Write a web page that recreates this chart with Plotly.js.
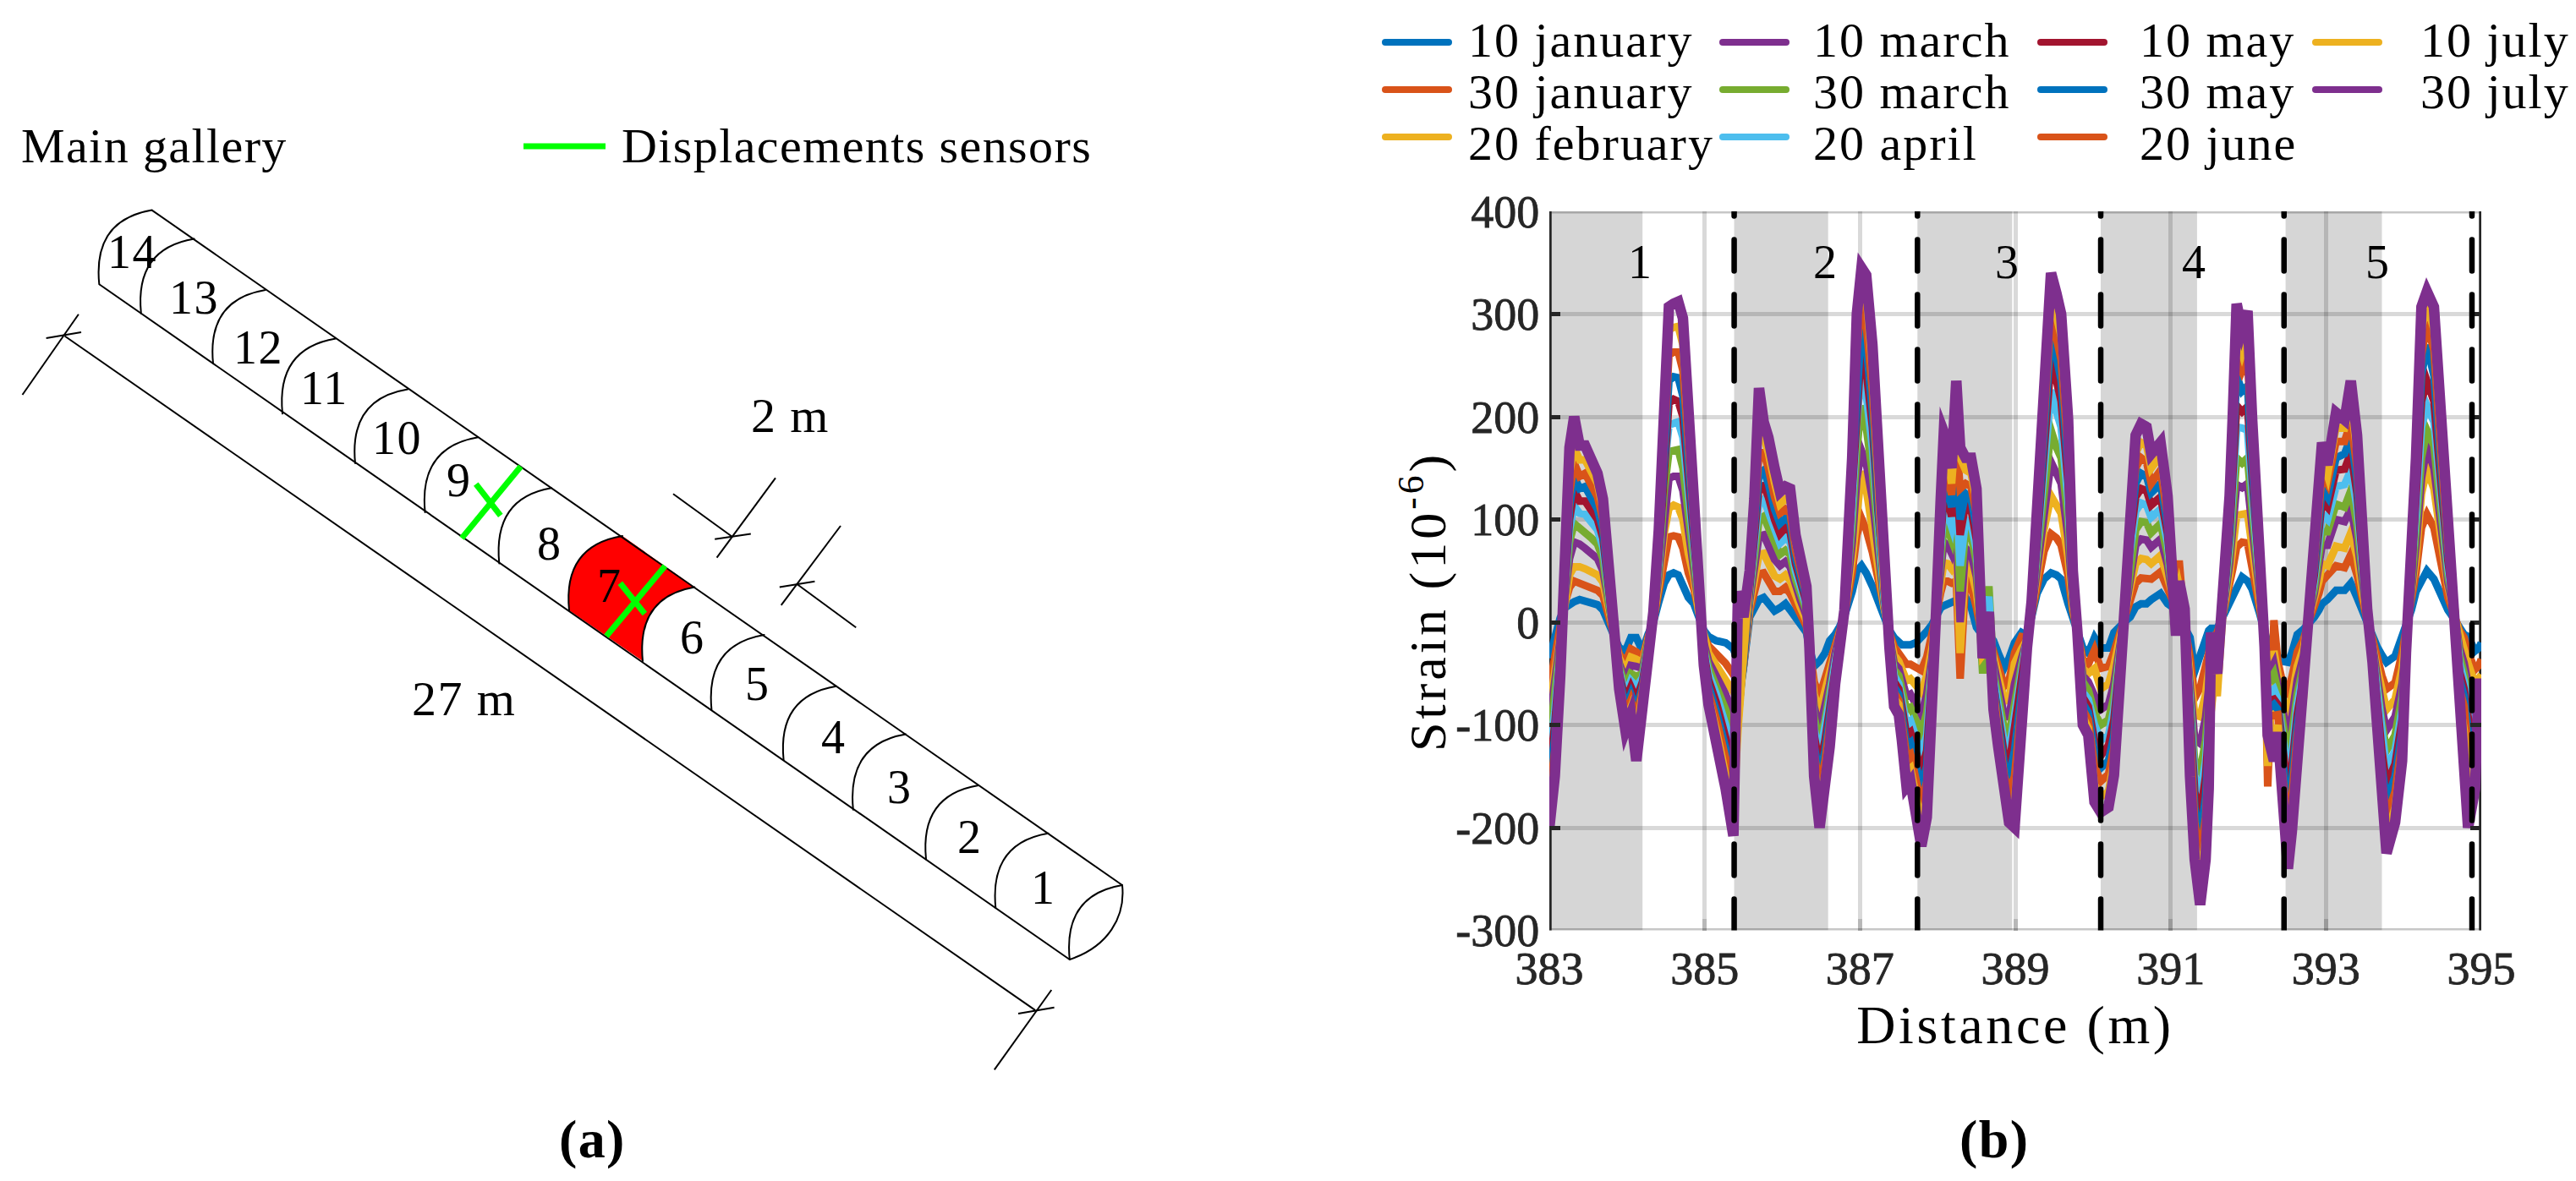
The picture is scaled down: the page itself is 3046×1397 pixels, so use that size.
<!DOCTYPE html>
<html><head><meta charset="utf-8">
<script src="https://cdn.plot.ly/plotly-3.0.1.min.js"></script>
<style>
body{margin:0;background:#fff}
.annotation-text{letter-spacing:1.4px}
.xtitle{letter-spacing:3.6px}
.xtick text,.ytick text{stroke:#262626;stroke-width:0.8px}
.shapelayer path{stroke-linecap:round}
.js-line{stroke-linejoin:miter!important;stroke-miterlimit:5!important}
</style></head><body><div id="chart" style="width:3046px;height:1397px"></div>
<script>
const distance=[383.00,383.07,383.14,383.20,383.26,383.32,383.39,383.46,383.54,383.62,383.69,383.76,383.83,383.90,383.98,384.05,384.12,384.20,384.27,384.34,384.41,384.48,384.54,384.60,384.66,384.72,384.79,384.86,384.92,384.99,385.05,385.15,385.27,385.37,385.43,385.50,385.58,385.64,385.70,385.76,385.82,385.90,385.97,386.04,386.10,386.17,386.23,386.31,386.35,386.41,386.48,386.55,386.61,386.68,386.74,386.80,386.90,386.96,387.02,387.08,387.16,387.23,387.31,387.38,387.44,387.50,387.54,387.60,387.65,387.72,387.79,387.86,387.93,387.98,388.04,388.08,388.13,388.18,388.24,388.29,388.36,388.43,388.50,388.54,388.58,388.66,388.72,388.78,388.86,388.92,388.99,389.08,389.15,389.21,389.28,389.37,389.46,389.53,389.59,389.68,389.74,389.80,389.87,389.94,390.02,390.10,390.20,390.27,390.33,390.40,390.48,390.55,390.62,390.69,390.75,390.87,390.96,391.02,391.07,391.11,391.18,391.25,391.31,391.38,391.45,391.49,391.52,391.60,391.67,391.76,391.80,391.85,391.92,391.99,392.05,392.14,392.21,392.25,392.33,392.38,392.43,392.51,392.56,392.63,392.71,392.78,392.85,392.91,392.95,393.02,393.13,393.24,393.32,393.40,393.47,393.53,393.60,393.66,393.72,393.78,393.89,393.98,394.03,394.10,394.16,394.23,394.30,394.39,394.48,394.57,394.66,394.72,394.78,394.83,394.92,394.97,395.00];
const jan10=[-35,-12,4,14,18,20,22,21,18,17,12,0,-15,-25,-28,-15,-15,-28,-12,0,20,38,46,48,46,35,24,18,5,-8,-14,-18,-20,-26,-38,-44,5,15,22,24,18,11,14,18,12,5,0,-10,-25,-43,-38,-30,-18,-12,-4,6,30,50,55,48,35,20,5,-8,-15,-20,-22,-22,-22,-20,-15,-9,-2,7,14,16,18,20,22,23,24,15,-5,-10,-13,-12,-18,-30,-44,-35,-20,-10,-13,5,28,42,48,46,42,18,5,-10,-25,-30,-15,-25,-25,-10,-4,0,5,15,18,18,22,28,18,14,12,10,-5,-15,-48,-30,-15,-8,-6,-6,5,20,28,35,44,40,32,10,-10,-20,-32,-33,-38,-39,-30,-12,-7,-2,5,12,18,22,31,31,38,24,10,0,-12,-24,-32,-39,-33,-15,-5,12,30,42,50,42,25,12,2,-5,-12,-14,-28,-25,-20];
const jan30=[-64,-31,-4,18,34,40,38,37,33,31,26,7,-14,-31,-39,-26,-29,-35,-15,1,30,65,83,84,83,72,48,33,8,-13,-23,-31,-40,-51,-48,-43,11,30,47,48,41,30,30,34,28,16,8,-4,-25,-58,-72,-55,-38,-19,-6,7,48,85,101,90,68,40,10,-10,-24,-30,-35,-41,-41,-44,-47,-34,-14,7,29,40,40,38,40,-55,43,35,14,-4,-16,-14,-27,-43,-62,-57,-30,-14,-15,7,38,69,86,82,75,45,11,-10,-36,-41,-27,-45,-43,-29,-15,1,21,38,43,42,42,49,33,19,13,60,-3,-34,-74,-64,-45,-30,-18,-10,6,35,52,73,78,77,55,21,-12,-160,2,-38,-55,-67,-54,-29,-17,1,14,28,40,45,55,53,66,46,20,2,-16,-36,-52,-65,-59,-30,-8,20,48,92,105,92,57,24,5,-8,-15,-30,-46,-42,-36];
const feb20=[-84,-46,-10,20,46,54,54,52,48,46,39,12,-14,-35,-47,-34,-36,-40,-17,2,37,87,111,114,112,100,67,44,11,-16,-30,-42,-55,-68,-55,-43,16,41,66,67,58,45,42,46,41,25,15,1,-25,-70,-88,-67,-48,-24,-8,8,62,112,147,130,94,55,14,-12,-32,-38,-45,-57,-55,-62,-68,-52,-24,8,40,58,57,52,60,-30,58,51,29,0,-18,-15,-35,-53,-77,-75,-40,-26,-17,9,46,90,123,115,106,63,16,-10,-45,-50,-45,-65,-60,-42,-23,3,34,57,62,61,57,65,44,23,14,30,0,-50,-90,-92,-70,-47,-28,-72,7,46,71,104,105,106,73,29,-14,-140,-28,-50,-70,-89,-74,-43,-25,4,21,40,57,55,74,72,87,64,29,3,-19,-45,-65,-85,-75,-45,-11,24,62,125,149,130,85,35,5,-12,-25,-40,-60,-55,-51];
const mar10=[-100,-62,-16,24,62,78,76,72,66,62,50,17,-13,-40,-56,-42,-43,-45,-19,3,45,108,140,142,142,128,86,56,14,-20,-38,-52,-70,-90,-64,-43,21,53,84,85,76,61,55,59,54,34,22,6,-25,-82,-105,-82,-60,-30,-10,8,77,140,167,155,120,70,18,-14,-40,-45,-55,-72,-70,-80,-90,-70,-33,8,52,78,75,67,85,0,72,67,44,4,-21,-17,-42,-63,-92,-92,-60,-35,-17,10,54,112,156,145,135,82,21,-10,-52,-58,-70,-85,-80,-60,-31,4,47,75,81,80,73,81,56,27,15,20,2,-62,-114,-118,-93,-64,-38,-16,8,57,90,134,131,135,92,37,-15,-52,-40,-60,-83,-111,-93,-56,-33,6,28,52,75,75,100,98,110,81,37,4,-22,-55,-84,-105,-92,-60,-14,30,75,140,171,150,95,39,6,-25,-40,-60,-75,-65,-60];
const mar30=[-115,-75,-22,26,78,96,92,88,82,76,62,22,-13,-43,-63,-50,-53,-50,-20,4,52,128,166,168,168,150,104,66,17,-24,-44,-62,-85,-110,-72,-42,26,63,100,103,92,75,66,70,66,42,28,11,-25,-92,-117,-95,-68,-36,-12,9,95,170,211,190,145,85,22,-16,-46,-52,-65,-85,-83,-98,-108,-88,-42,8,63,95,90,80,110,30,90,85,58,10,-50,35,-50,-72,-105,-110,-75,-42,-18,12,62,130,187,170,160,100,26,-10,-58,-66,-88,-100,-95,-72,-38,5,58,90,98,97,87,96,66,30,16,25,3,-78,-136,-145,-115,-80,-48,-20,9,67,105,160,155,160,108,45,-16,-60,-50,-67,-95,-130,-110,-70,-41,8,33,62,88,88,115,112,128,95,45,5,-25,-64,-98,-125,-110,-72,-17,35,90,160,187,172,108,46,7,-32,-50,-72,-90,-78,-68];
const apr20=[-130,-87,-28,28,90,113,106,105,96,90,73,27,-12,-47,-71,-57,-63,-54,-22,5,60,148,192,193,195,180,122,77,19,-27,-50,-70,-100,-128,-80,-42,30,74,118,120,108,87,77,82,78,50,34,15,-25,-103,-130,-104,-76,-40,-13,9,112,195,244,222,170,98,25,-18,-52,-60,-75,-99,-96,-115,-128,-110,-52,9,74,110,105,93,125,55,100,96,70,14,-28,25,-55,-82,-118,-125,-90,-50,-20,13,70,150,226,205,190,118,30,-10,-68,-75,-100,-115,-110,-85,-46,6,70,108,116,114,102,110,77,34,17,25,4,-90,-150,-168,-135,-95,-56,-22,9,78,125,190,189,187,125,52,-18,-70,-65,-75,-108,-150,-128,-80,-48,10,40,74,105,100,132,134,148,112,52,7,-28,-72,-112,-143,-125,-85,-19,40,105,190,211,195,122,53,8,-40,-58,-80,-105,-85,-77];
const may10=[-145,-100,-32,30,100,128,118,118,108,100,82,31,-12,-50,-76,-63,-75,-58,-23,6,65,162,213,217,215,200,135,85,21,-30,-56,-78,-112,-142,-85,-42,33,82,132,133,122,100,86,92,88,57,38,19,-25,-110,-140,-115,-84,-44,-14,10,125,220,270,245,190,110,28,-19,-58,-65,-82,-110,-107,-128,-145,-125,-60,9,82,122,118,103,145,85,115,110,80,16,-25,-5,-62,-90,-130,-140,-105,-58,-21,14,76,168,255,235,215,135,34,-10,-73,-82,-115,-130,-120,-95,-52,6,80,122,130,128,114,122,86,37,18,25,4,-100,-165,-188,-150,-105,-62,-24,10,86,140,211,205,210,140,58,-19,-77,-75,-80,-118,-165,-142,-90,-54,11,46,84,118,112,148,149,165,125,58,8,-30,-80,-125,-158,-138,-95,-21,44,118,215,235,215,135,60,9,-48,-65,-92,-118,-95,-83];
const may30=[-155,-112,-37,33,112,142,130,132,120,110,90,35,-11,-53,-83,-70,-85,-62,-25,7,70,178,235,239,238,220,150,94,23,-33,-62,-86,-122,-155,-90,-41,37,90,145,148,135,110,96,101,97,63,43,23,-25,-120,-150,-125,-92,-48,-15,10,135,240,292,270,205,120,30,-20,-63,-70,-89,-120,-117,-140,-160,-140,-66,9,90,135,128,112,165,100,125,120,92,19,-28,-22,-68,-97,-140,-150,-125,-64,-22,15,82,182,281,258,235,150,37,-10,-79,-88,-125,-142,-135,-110,-59,7,90,135,145,142,126,135,94,40,18,25,5,-115,-180,-210,-170,-120,-70,-26,10,94,155,240,225,230,152,65,-20,-85,-80,-85,-130,-185,-155,-100,-60,13,52,92,130,122,160,164,180,138,65,9,-32,-88,-140,-175,-150,-105,-23,48,130,240,270,240,150,67,10,-55,-72,-105,-128,-100,-87];
const jun20=[-170,-125,-42,36,125,155,142,145,132,122,100,38,-10,-57,-90,-76,-93,-66,-26,8,76,195,260,263,263,245,165,104,25,-36,-68,-94,-132,-170,-96,-41,41,98,165,165,150,122,106,110,106,70,48,27,-25,-128,-160,-135,-100,-52,-17,11,150,265,314,290,225,130,33,-22,-68,-76,-95,-130,-128,-155,-178,-155,-74,9,98,148,140,124,180,130,135,132,105,23,-30,-24,-73,-105,-150,-165,-150,-72,-23,17,88,195,302,280,255,165,41,-10,-85,-95,-140,-155,-148,-122,-66,8,100,150,160,156,135,148,103,43,19,30,7,-125,-195,-228,-190,-135,-78,-28,11,103,165,260,245,258,168,72,-21,-92,-90,-90,-140,-200,-170,-110,-67,16,58,100,145,135,176,176,195,150,72,10,-34,-96,-152,-190,-165,-115,-25,52,140,260,290,265,165,72,11,-65,-82,-125,-140,-90,-90];
const jul10=[-185,-138,-47,38,145,170,158,158,145,135,110,43,-10,-60,-97,-83,-105,-70,-28,9,83,215,285,287,288,270,180,113,28,-39,-74,-105,-145,-185,-103,-40,45,110,197,180,165,136,115,120,118,78,54,31,-25,-138,-178,-148,-110,-56,-18,11,155,285,335,320,245,145,36,-23,-74,-80,-105,-145,-142,-172,-195,-172,-82,10,108,165,158,135,195,160,148,145,118,27,-32,-24,-78,-113,-165,-180,-175,-76,-24,18,94,215,322,298,278,180,45,-10,-92,-103,-158,-170,-165,-135,-74,9,112,165,175,172,150,162,113,46,20,35,10,-140,-215,-250,-210,-150,-88,-32,12,113,185,281,262,280,182,80,-22,-100,-125,-100,-152,-220,-188,-122,-74,18,64,112,160,143,190,189,215,165,80,12,-36,-103,-165,-208,-180,-125,-28,56,150,285,309,285,182,80,12,-78,-105,-165,-150,-75,-93];
const jul30=[-200,-150,-53,40,170,200,172,172,158,145,120,48,-10,-65,-105,-90,-135,-75,-30,10,90,233,307,310,312,296,197,123,30,-42,-80,-113,-162,-208,30,5,50,120,228,195,180,150,127,132,130,85,60,35,-25,-150,-200,-162,-121,-60,-20,12,160,300,345,338,270,160,40,-25,-82,-90,-115,-160,-155,-190,-218,-190,-90,10,120,185,175,150,235,170,160,160,130,30,-35,10,-85,-121,-176,-195,-200,-80,-25,20,100,233,340,320,300,197,50,-10,-100,-110,-175,-185,-180,-149,-80,10,123,182,193,190,164,175,123,50,-13,40,13,-150,-231,-275,-231,-162,-10,-50,13,123,200,310,285,303,197,86,-24,-110,-135,-107,-162,-240,-204,-135,-80,20,70,123,175,153,204,197,235,182,86,13,-39,-110,-176,-225,-195,-135,-30,60,160,307,322,307,197,86,13,-90,-129,-200,-162,-55,-100];

const seriesNames=['10 january','30 january','20 february','10 march','30 march','20 april','10 may','30 may','20 june','10 july','30 july'];
const seriesValues=[jan10,jan30,feb20,mar10,mar30,apr20,may10,may30,jun20,jul10,jul30];
const seriesColors=['#0072BD','#D95319','#EDB120','#7E2F8E','#77AC30','#4DBEEE','#A2142F','#0072BD','#D95319','#EDB120','#7E2F8E'];
const seriesWidths=[9,9,9,9,9,9,9,9,9,9,12.5];

const xTicks=[383,385,387,389,391,393,395];
const yTicks=[-300,-200,-100,0,100,200,300,400];
const yTickText=['-300','-200','-100','0','100','200','300','400'];
const joints=[385.38,387.74,390.10,392.46,394.88];
const bandStart=[383,385.38,387.74,390.10,392.48];
const bandEnd=[384.20,386.59,388.96,391.34,393.72];
const segLabels=['1','2','3','4','5'];
const segLabelX=[384.17,386.55,388.90,391.30,393.67];

// Panel (a): the gallery, in page units of the hidden overlay axes.
const ringLabels=['14','13','12','11','10','9','8','7','6','5','4','3','2','1'];
const ringLabelX=[156,229,305,383,469,542,649,720,818,895,985,1063,1146,1233];
const ringLabelY=[298,352,411,459,518,568,643,693,754,809,872,931,990,1050];
const ringTopX=[179.6,229.6,313.8,397,482,565.3,652,736,821.3,903.6,988.8,1071,1157,1239.5,1327];
const ringTopY=[248.6,282.6,343,400.5,460.6,517.2,577.3,634,694.4,751,811.7,868.4,929,985.7,1047];
const ringBotX=[117.3,166.8,252,334,420,502.6,590.3,673,760,841.4,926.6,1008.8,1095,1177.3,1264.8];
const ringBotY=[336.2,370.7,430,489.3,547.9,606,666.5,722,782,839.3,899,957.7,1016.3,1074,1135];
const outlineX=[179.6,1327,null,117.3,1264.8,null,76.5,1224,null,26.5,92.9,null,54.6,96,null,1175.8,1243.3,null,1204,1246.6,null,847.6,917,null,796,866.3,null,845.2,887.8,null,923.7,994,null,942.8,1012.2,null,921.8,963.4];
const outlineY=[248.6,1047,null,336.2,1135,null,397.5,1194.9,null,467,371.8,null,400,392.9,null,1265.3,1171,null,1199,1191.8,null,659.7,565.3,null,584.2,635.2,null,637.8,631.6,null,715.8,622,null,691.3,742.3,null,694.4,687.8];
const sensorX=[546,615.8,null,562.8,591.8,null,717,786.4,null,733.3,762.4,null,619,716];
const sensorY=[636.6,551.8,null,572.7,609.9,null,752.6,669.4,null,689.8,726,null,173,173];
const capX=[1327,1331,1310,1264.8];
const capY=[1047,1085,1120,1135];

const SERIF='"Liberation Serif",serif';
const xDomain=[1832/3046,2934/3046], yDomain=[(1397-1100.5)/1397,(1397-250)/1397];

const traces=seriesValues.map((v,i)=>({type:'scatter',mode:'lines',x:distance,y:v,name:seriesNames[i],cliponaxis:false,
  line:{color:seriesColors[i],width:seriesWidths[i]},hoverinfo:'name+x+y'}));
traces.push({type:'scatter',mode:'lines',x:outlineX,y:outlineY,xaxis:'x2',yaxis:'y2',line:{color:'#000',width:2},hoverinfo:'skip'});
traces.push({type:'scatter',mode:'lines',x:sensorX,y:sensorY,xaxis:'x2',yaxis:'y2',line:{color:'#00FF00',width:7},hoverinfo:'skip'});

function arcCtrl(i){const dx=ringTopX[i]-ringBotX[i],dy=ringTopY[i]-ringBotY[i];
  return [ringBotX[i]-0.08*dx,ringBotY[i]+0.57*dy,ringBotX[i]+0.24*dx,ringBotY[i]+0.91*dy];}
const shapes=[];
bandStart.forEach((s,i)=>shapes.push({type:'rect',xref:'x',yref:'y',x0:s,x1:bandEnd[i],y0:-300,y1:400,fillcolor:'#D6D6D6',line:{width:0},layer:'below'}));
[-300,400].forEach(v=>shapes.push({type:'line',xref:'x',yref:'y',x0:383,x1:395,y0:v,y1:v,line:{color:'rgba(0,0,0,0.22)',width:5},layer:'below'}));
[383,395].forEach(v=>shapes.push({type:'line',xref:'x',yref:'y',x0:v,x1:v,y0:-300,y1:400,line:{color:'#262626',width:5.5},layer:'below'}));
joints.forEach(j=>shapes.push({type:'line',xref:'x',yref:'y',x0:j,x1:j,y0:-300,y1:400,line:{color:'#000',width:6.5,dash:'37px,28px'},layer:'above'}));
{const a=arcCtrl(7),b=arcCtrl(8);
 shapes.push({type:'path',xref:'x2',yref:'y2',layer:'below',fillcolor:'#FF0000',line:{width:0},
  path:`M${ringBotX[7]},${ringBotY[7]} C${a[0]},${a[1]} ${a[2]},${a[3]} ${ringTopX[7]},${ringTopY[7]} L${ringTopX[8]},${ringTopY[8]} C${b[2]},${b[3]} ${b[0]},${b[1]} ${ringBotX[8]},${ringBotY[8]} Z`});}
ringTopX.forEach((t,i)=>{const a=arcCtrl(i);shapes.push({type:'path',xref:'x2',yref:'y2',layer:'above',line:{color:'#000',width:2},
  path:`M${ringBotX[i]},${ringBotY[i]} C${a[0]},${a[1]} ${a[2]},${a[3]} ${t},${ringTopY[i]}`});});
shapes.push({type:'path',xref:'x2',yref:'y2',layer:'above',line:{color:'#000',width:2},
  path:`M${capX[0]},${capY[0]} C${capX[1]},${capY[1]} ${capX[2]},${capY[2]} ${capX[3]},${capY[3]}`});

const legendSwatchX=[1638,2037,2413,2738];
const legendTextX=[1734,2142,2528,2860];
const legendSwatchY=[50,106,162];
const legendTextY=[47,108,169];
seriesNames.forEach((n,i)=>{const c=Math.floor(i/3),r=i%3;
  shapes.push({type:'line',xref:'x2',yref:'y2',x0:legendSwatchX[c],x1:legendSwatchX[c]+75,y0:legendSwatchY[r],y1:legendSwatchY[r],line:{color:seriesColors[i],width:8},layer:'above'});});

const ann=[];
const T=(text,x,y,size,anchor,extra)=>Object.assign({text,x,y,xref:'x2',yref:'y2',showarrow:false,xanchor:anchor||'left',yanchor:'middle',font:{family:SERIF,size,color:'#000'}},extra||{});
seriesNames.forEach((n,i)=>{const c=Math.floor(i/3),r=i%3;ann.push(T(`<span style="letter-spacing:2px">${n}</span>`,legendTextX[c],legendTextY[r],58));});
ringLabels.forEach((t,i)=>ann.push(T(t,ringLabelX[i],ringLabelY[i],56,'center')));
segLabels.forEach((t,i)=>ann.push({text:t,x:segLabelX[i],y:351,xref:'x',yref:'y',showarrow:false,font:{family:SERIF,size:56,color:'#000'}}));
ann.push(T('Main gallery',23,172,58));
ann.push(T('Displacements sensors',733,172,58));
ann.push(T('2 m',934,491,58,'center'));
ann.push(T('27 m',548,826,58,'center'));
ann.push(T('<b>(a)</b>',700,1347,64,'center'));
ann.push(T('<b>(b)</b>',2358,1347,64,'center'));
ann.push(T('<span style="letter-spacing:4px">Strain (10<sup>-6</sup>)</span>',1683,712,62,'center',{textangle:-90}));

const layout={width:3046,height:1397,margin:{l:0,r:0,t:0,b:0},paper_bgcolor:'#fff',plot_bgcolor:'rgba(0,0,0,0)',showlegend:false,
 xaxis:{domain:xDomain,anchor:'y',range:[383,395],tickmode:'array',tickvals:xTicks,ticktext:xTicks.map(String),showline:false,zeroline:false,ticklabelstandoff:8,
   showgrid:true,gridcolor:'rgba(0,0,0,0.15)',gridwidth:5,ticks:'inside',ticklen:14,tickwidth:5,tickcolor:'rgba(0,0,0,0.15)',
   tickfont:{family:SERIF,size:54,color:'#262626'},title:{text:'Distance (m)',font:{family:SERIF,size:64,color:'#000'},standoff:14}},
 yaxis:{domain:yDomain,anchor:'x',range:[-300,400],tickmode:'array',tickvals:yTicks,ticktext:yTickText,zeroline:false,showline:true,linewidth:1,linecolor:'rgba(0,0,0,0)',mirror:'ticks',
   showgrid:true,gridcolor:'rgba(0,0,0,0.15)',gridwidth:5,ticks:'inside',ticklen:13,tickwidth:5,tickcolor:'#262626',
   tickfont:{family:SERIF,size:54,color:'#262626'}},
 xaxis2:{domain:[0,1],anchor:'y2',range:[0,3046],visible:false,fixedrange:true},
 yaxis2:{domain:[0,1],anchor:'x2',range:[1397,0],visible:false,fixedrange:true},
 shapes,annotations:ann};
Plotly.newPlot('chart',traces,layout,{staticPlot:true,displayModeBar:false});
</script></body></html>
